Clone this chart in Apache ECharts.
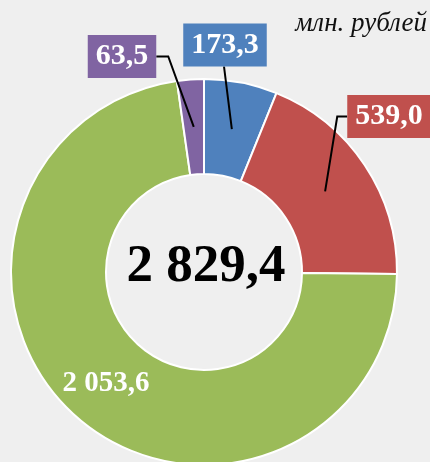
<!DOCTYPE html>
<html>
<head>
<meta charset="utf-8">
<script src="https://cdn.jsdelivr.net/npm/echarts@6/dist/echarts.min.js"></script>
<style>
  html, body { margin: 0; padding: 0; background: #efefef; }
  #chart { width: 430px; height: 462px; }
</style>
</head>
<body>
<div id="chart"></div>
<script>
// ---- data ----
const categories = ['A', 'B', 'C', 'D'];
const values = [173.3, 539.0, 2053.6, 63.5];
const colors = ['#4f81bd', '#c0504d', '#9bbb59', '#8064a2'];
const unitLabel = 'млн. рублей';

// ---- styles ----
const CENTER = [204, 272];
const R_IN = 98, R_OUT = 193;
// label box centers & line style per slice (null = inside label)
const labelPlace = [
  { x: 225, y: 45, side: 'bottom' },
  { x: 389, y: 116.5, side: 'left' },
  null,
  { x: 122, y: 56.5, side: 'right' }
];

function fmt(v) {
  const parts = v.toFixed(1).split('.');
  parts[0] = parts[0].replace(/\B(?=(\d{3})+(?!\d))/g, ' ');
  return parts[0] + ',' + parts[1];
}
const total = values.reduce((a, b) => a + b, 0);

function midAngle(i) {
  let before = 0;
  for (let k = 0; k < i; k++) before += values[k];
  return (before + values[i] / 2) / total * Math.PI * 2;
}

const sliceData = categories.map((c, i) => ({
  name: c, value: values[i], itemStyle: { color: colors[i] }
}));

const labelData = categories.map((c, i) => {
  const inside = labelPlace[i] === null;
  return {
    name: c,
    value: values[i],
    label: inside ? {
      position: 'inside',
      color: '#fff',
      fontSize: 29,
      fontWeight: 'bold',
      fontFamily: 'Liberation Serif'
    } : {
      position: 'outside',
      color: '#fff',
      fontSize: 30,
      fontWeight: 'bold',
      fontFamily: 'Liberation Serif',
      backgroundColor: colors[i],
      padding: [7, 8, 6, 8]
    },
    labelLine: { show: !inside }
  };
});

const chart = echarts.init(document.getElementById('chart'), null, { renderer: 'canvas' });
chart.setOption({
  backgroundColor: '#efefef',
  animation: false,
  graphic: [
    {
      type: 'text',
      z: 10,
      style: {
        text: fmt(total),
        x: 206, y: 267,
        fill: '#000',
        font: 'bold 53px "Liberation Serif"',
        textAlign: 'center',
        textVerticalAlign: 'middle'
      }
    },
    {
      type: 'text',
      z: 10,
      style: {
        text: unitLabel,
        x: 427, y: 24,
        fill: '#111',
        font: 'italic 27px "Liberation Serif"',
        textAlign: 'right',
        textVerticalAlign: 'middle',
        shadowColor: 'rgba(0,0,0,0.35)',
        shadowBlur: 2,
        shadowOffsetX: 1,
        shadowOffsetY: 1
      }
    }
  ],
  series: [
    {
      type: 'pie',
      z: 2,
      center: CENTER,
      radius: [R_IN, R_OUT],
      startAngle: 90,
      clockwise: true,
      silent: true,
      itemStyle: { borderColor: '#fff', borderWidth: 2 },
      label: { show: false },
      labelLine: { show: false },
      data: sliceData
    },
    {
      type: 'pie',
      z: 3,
      center: CENTER,
      radius: [R_IN, R_OUT],
      startAngle: 90,
      clockwise: true,
      silent: true,
      avoidLabelOverlap: false,
      itemStyle: { color: 'rgba(0,0,0,0)', borderWidth: 0 },
      label: { formatter: p => fmt(p.value) },
      labelLine: { lineStyle: { color: '#000', width: 2 }, length: 10, length2: 10 },
      labelLayout: function (params) {
        const i = params.dataIndex;
        const pl = labelPlace[i];
        if (!pl) return {};
        const a = midAngle(i);
        const rm = (R_IN + R_OUT) / 2;
        const ax = CENTER[0] + Math.sin(a) * rm;
        const ay = CENTER[1] - Math.cos(a) * rm;
        const w = params.labelRect.width, h = params.labelRect.height;
        let pts;
        if (pl.side === 'bottom') {
          pts = [[ax, ay], [pl.x - 1, pl.y + h / 2], [pl.x - 1, pl.y + h / 2]];
        } else if (pl.side === 'right') {
          const ex = pl.x + w / 2;
          pts = [[ax, ay], [ex + 12, pl.y], [ex, pl.y]];
        } else {
          const ex = pl.x - w / 2;
          pts = [[ax, ay], [ex - 10, pl.y], [ex, pl.y]];
        }
        return {
          x: pl.x, y: pl.y,
          align: 'center', verticalAlign: 'middle',
          labelLinePoints: pts
        };
      },
      data: labelData
    }
  ]
});
</script>
</body>
</html>
